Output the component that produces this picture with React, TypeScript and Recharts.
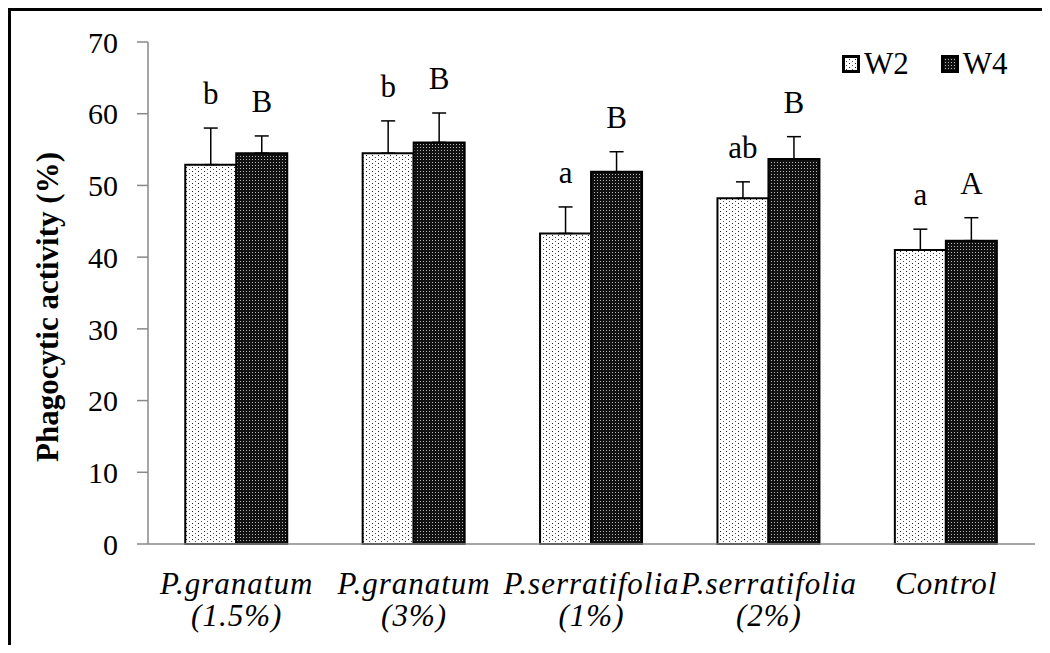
import React from "react";
import { BarChart, Bar, XAxis, YAxis, ErrorBar, LabelList, Label } from "recharts";

const categories = ["P.granatum", "P.granatum", "P.serratifolia", "P.serratifolia", "Control"];
const doses = ["(1.5%)", "(3%)", "(1%)", "(2%)", ""];
const seriesNames = ["W2", "W4"];
const w2Values = [52.9, 54.5, 43.3, 48.2, 41.0];
const w4Values = [54.5, 56.0, 51.9, 53.7, 42.3];
const w2Errors = [5.1, 4.5, 3.7, 2.3, 2.9];
const w4Errors = [2.4, 4.1, 2.8, 3.1, 3.2];
const w2Letters = ["b", "b", "a", "ab", "a"];
const w4Letters = ["B", "B", "B", "B", "A"];
const yTicks = [0, 10, 20, 30, 40, 50, 60, 70];

const data = categories.map((name, i) => ({
  name: name + " " + doses[i],
  w2: w2Values[i],
  w4: w4Values[i],
  w2Err: [0, w2Errors[i]],
  w4Err: [0, w4Errors[i]],
}));

const font = "'Liberation Serif', 'Times New Roman', serif";

function CategoryTick(props: any) {
  const { x, y, payload } = props;
  const i = payload.index;
  const style = { fontFamily: font, fontStyle: "italic", fontSize: 31, letterSpacing: 1 } as any;
  return (
    <g transform={`translate(${x},${y})`}>
      <text x={0} y={48} textAnchor="middle" fill="#000" style={style}>
        {categories[i]}
      </text>
      {doses[i] && (
        <text x={0} y={80} textAnchor="middle" fill="#000" style={style}>
          {doses[i]}
        </text>
      )}
    </g>
  );
}

function letterLabel(letters: string[], errors: number[]) {
  return (props: any) => {
    const { x, y, width, height, value, index } = props;
    const capY = y - (errors[index] * height) / value;
    return (
      <text x={x + width / 2} y={capY - 24} textAnchor="middle" fontFamily={font} fontSize={31} fill="#000">
        {letters[index]}
      </text>
    );
  };
}

function LegendIcon({ fill }: { fill: string }) {
  return (
    <svg width={18} height={18} style={{ display: "block" }}>
      <rect x={1.5} y={1.5} width={15} height={15} fill={fill} stroke="#000" strokeWidth={3} />
    </svg>
  );
}

export default function App() {
  return (
    <div
      style={{
        position: "relative",
        width: 1034,
        height: 637,
        boxSizing: "border-box",
        borderTop: "3px solid #000",
        borderLeft: "3px solid #000",
        background: "#fff",
      }}
    >
      <BarChart
        width={1031}
        height={634}
        data={data}
        margin={{ top: 31, right: 7, left: 0, bottom: 21 }}
        barCategoryGap="21%"
        barGap={0}
      >
        <defs>
          <pattern id="dotsLight" width={6} height={4} patternUnits="userSpaceOnUse">
            <rect width={6} height={4} fill="#fff" />
            <rect x={1} y={0} width={1} height={1} fill="#222" />
            <rect x={4} y={2} width={1} height={1} fill="#555" />
          </pattern>
          <pattern id="dotsDark" width={3} height={3} patternUnits="userSpaceOnUse">
            <rect width={3} height={3} fill="#111" />
            <rect x={1} y={1} width={1} height={1} fill="#b8b8b8" />
          </pattern>
        </defs>
        <XAxis
          dataKey="name"
          axisLine={{ stroke: "#898989", strokeWidth: 1.5 }}
          tickLine={false}
          tickSize={0}
          height={80}
          interval={0}
          tick={<CategoryTick />}
        />
        <YAxis
          width={137}
          domain={[0, 70]}
          ticks={yTicks}
          axisLine={{ stroke: "#898989", strokeWidth: 1.5 }}
          tickLine={{ stroke: "#898989", strokeWidth: 1.5 }}
          tickSize={11}
          tickMargin={19}
          tick={{ fontFamily: font, fontSize: 30, fill: "#000" }}
        >
          <Label
            content={(p: any) => {
              const vb = p.viewBox;
              const cx = vb.x + 36;
              const cy = vb.y + vb.height / 2 + 14;
              return (
                <text
                  x={cx}
                  y={cy}
                  transform={`rotate(-90 ${cx} ${cy})`}
                  textAnchor="middle"
                  dominantBaseline="central"
                  fontFamily={font}
                  fontWeight="bold"
                  fontSize={31}
                  fill="#000"
                >
                  Phagocytic activity (%)
                </text>
              );
            }}
          />
        </YAxis>
        <Bar dataKey="w2" name={seriesNames[0]} fill="url(#dotsLight)" stroke="#000" strokeWidth={2} isAnimationActive={false}>
          <ErrorBar dataKey="w2Err" width={7} stroke="#000" strokeWidth={1.5} direction="y" />
          <LabelList dataKey="w2" content={letterLabel(w2Letters, w2Errors)} />
        </Bar>
        <Bar dataKey="w4" name={seriesNames[1]} fill="url(#dotsDark)" stroke="#000" strokeWidth={2} isAnimationActive={false}>
          <ErrorBar dataKey="w4Err" width={7} stroke="#000" strokeWidth={1.5} direction="y" />
          <LabelList dataKey="w4" content={letterLabel(w4Letters, w4Errors)} />
        </Bar>
      </BarChart>
      <div
        style={{
          position: "absolute",
          left: 831,
          top: 36,
          display: "flex",
          alignItems: "center",
          fontFamily: font,
          fontSize: 31,
          lineHeight: "34px",
        }}
      >
        <LegendIcon fill="url(#dotsLight)" />
        <span style={{ marginLeft: 4 }}>{seriesNames[0]}</span>
        <span style={{ width: 32 }} />
        <LegendIcon fill="url(#dotsDark)" />
        <span style={{ marginLeft: 4 }}>{seriesNames[1]}</span>
      </div>
    </div>
  );
}
